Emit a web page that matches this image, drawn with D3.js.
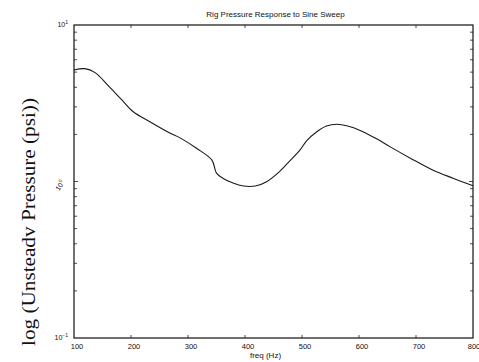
<!DOCTYPE html>
<html>
<head>
<meta charset="utf-8">
<script src="https://cdn.jsdelivr.net/npm/d3@7"></script>
<style>
  body { margin: 0; background: #fff; }
  svg text { fill: #111; }
</style>
</head>
<body>
<div id="graphic"></div>
<script>
// Data
var freq = [100, 119, 137, 160, 184, 204, 233, 268, 286, 315, 342, 350, 361, 379, 397, 418, 438,
  461, 479, 497, 508, 526, 543, 561, 580, 602, 630, 654, 690, 730, 765, 800];
var pressure = [5.16, 5.26, 4.96, 4.1, 3.32, 2.79, 2.41, 2.04, 1.90, 1.63, 1.37, 1.13, 1.05, 0.978,
  0.936, 0.936, 0.997, 1.16, 1.36, 1.60, 1.82, 2.08, 2.26, 2.32, 2.26, 2.12, 1.88, 1.67, 1.41, 1.18, 1.05, 0.94];
var xTicks = [100, 200, 300, 400, 500, 600, 700, 800];
var yDecades = [0.1, 1, 10];

var margins = { top: 25, right: 6, bottom: 24, left: 74 };
var width = 479, height = 362;
var chartWidth = width - margins.left - margins.right;
var chartHeight = height - margins.top - margins.bottom;

var svg = d3.select('#graphic').append('svg')
  .attr('width', width)
  .attr('height', height);

var chart = svg.append('g')
  .attr('transform', 'translate(' + margins.left + ',' + margins.top + ')');

var x = d3.scaleLinear().domain([100, 800]).range([0, chartWidth]);
var y = d3.scaleLog().domain([0.1, 10]).range([chartHeight, 0]);

// minor log ticks
var minor = [];
[0.1, 1].forEach(function (d) {
  for (var k = 2; k <= 9; k++) minor.push(d * k);
});

var tickLen = 3;
var ticks = chart.append('g').attr('stroke', '#222').attr('stroke-width', 0.8);

ticks.selectAll('.xt').data(xTicks.slice(1, -1)).enter().append('path')
  .attr('d', function (d) {
    return 'M' + x(d) + ',' + chartHeight + 'v' + (-tickLen) +
      'M' + x(d) + ',0v' + tickLen;
  });

ticks.selectAll('.ym').data(minor.concat([1])).enter().append('path')
  .attr('d', function (d) {
    var l = d === 1 ? tickLen + 1 : tickLen;
    return 'M0,' + y(d) + 'h' + l + 'M' + chartWidth + ',' + y(d) + 'h' + (-l);
  });

// box
chart.append('rect')
  .attr('width', chartWidth)
  .attr('height', chartHeight)
  .attr('fill', 'none')
  .attr('stroke', '#111')
  .attr('stroke-width', 1.2);

// curve
var line = d3.line()
  .x(function (d, i) { return x(freq[i]); })
  .y(function (d) { return y(d); })
  .curve(d3.curveCatmullRom);

chart.append('path')
  .datum(pressure)
  .attr('d', line)
  .attr('fill', 'none')
  .attr('stroke', '#1a1a1a')
  .attr('stroke-width', 1.1);

// x tick labels
chart.selectAll('.xl').data(xTicks).enter().append('text')
  .attr('x', function (d) { return x(d) + (d === 800 ? 1 : 3); })
  .attr('y', chartHeight + 11)
  .attr('text-anchor', 'middle')
  .attr('font-family', 'Liberation Sans, Arial, sans-serif')
  .attr('font-size', 7.5)
  .text(function (d) { return d; });

// y decade labels
var yLab = chart.selectAll('.yl').data(yDecades).enter().append('text')
  .attr('font-family', 'Liberation Sans, Arial, sans-serif')
  .attr('font-size', 7)
  .attr('text-anchor', 'end')
  .attr('transform', function (d) {
    if (d === 1) return 'translate(-9,' + (y(d) + 1) + ') rotate(-55)';
    return 'translate(-6,' + (y(d) + 2) + ')';
  });
yLab.append('tspan').text('10');
yLab.append('tspan')
  .attr('dy', -3)
  .attr('font-size', 5)
  .text(function (d) { return d === 0.1 ? '\u22121' : (d === 1 ? '0' : '1'); });

// title
svg.append('text')
  .attr('x', margins.left + chartWidth / 2 + 2)
  .attr('y', 17)
  .attr('text-anchor', 'middle')
  .attr('font-family', 'Liberation Sans, Arial, sans-serif')
  .attr('font-size', 8)
  .text('Rig Pressure Response to Sine Sweep');

// x label
svg.append('text')
  .attr('x', margins.left + chartWidth / 2 - 8)
  .attr('y', 358)
  .attr('text-anchor', 'middle')
  .attr('font-family', 'Liberation Sans, Arial, sans-serif')
  .attr('font-size', 8)
  .text('freq (Hz)');

// y label
svg.append('text')
  .attr('transform', 'translate(35,' + 222 + ') rotate(-90)')
  .attr('text-anchor', 'middle')
  .attr('font-family', 'Liberation Serif, Times New Roman, serif')
  .attr('font-size', 19)
  .attr('textLength', 248)
  .attr('lengthAdjust', 'spacingAndGlyphs')
  .text('log (Unsteadv Pressure (psi))');
</script>
</body>
</html>
